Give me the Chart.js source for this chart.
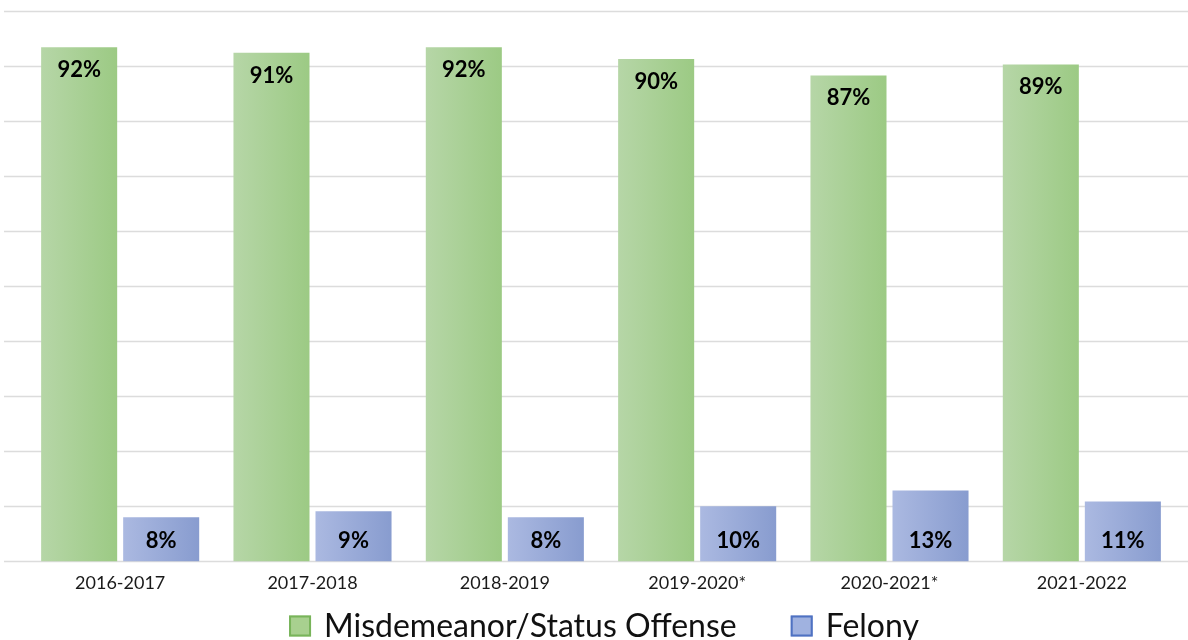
<!DOCTYPE html>
<html>
<head>
<meta charset="utf-8">
<script src="https://cdn.jsdelivr.net/npm/chart.js@4.4.1/dist/chart.umd.min.js"></script>
<style>
    html, body { margin: 0; padding: 0; background: #ffffff; overflow: hidden; }
    #wrap { width: 1188px; height: 640px; position: relative; }
</style>
</head>
<body>
<div id="wrap"><canvas id="offenseChart"></canvas></div>
<script>
// School years
const years = ['2016-2017', '2017-2018', '2018-2019', '2019-2020*', '2020-2021*', '2021-2022'];

// Bar heights as drawn (percent of referrals)
const misdemeanorValues = [93.4, 92.4, 93.4, 91.3, 88.3, 90.3];
const felonyValues = [8, 9.1, 8, 10, 12.9, 10.9];

// Printed labels on the bars
const misdemeanorLabels = ['92%', '91%', '92%', '90%', '87%', '89%'];
const felonyLabels = ['8%', '9%', '8%', '10%', '13%', '11%'];

// Gridline values on the hidden y axis
const gridValues = [0, 10, 20, 30, 40, 50, 60, 70, 80, 90, 100];

const seriesNames = ['Misdemeanor/Status Offense', 'Felony'];

const greenStops = ['#b6d6a7', '#9cca84'];
const blueStops = ['#abb9e1', '#889ccf'];
const legendFills = ['#a8d08f', '#a0b2e0'];
const legendStrokes = ['#78b45a', '#4f72c2'];

// horizontal gridlines running across the full width
const gridPlugin = {
    id: 'fullGrid',
    beforeDatasetsDraw(chart) {
        const ctx = chart.ctx;
        const y = chart.scales.y;
        ctx.save();
        ctx.strokeStyle = '#dcdcdc';
        ctx.lineWidth = 1.5;
        gridValues.forEach(v => {
            const py = Math.round(y.getPixelForValue(v)) + 0.5;
            ctx.beginPath();
            ctx.moveTo(4, py);
            ctx.lineTo(chart.width, py);
            ctx.stroke();
        });
        ctx.restore();
    }
};

// left-to-right gradient per bar
const gradientPlugin = {
    id: 'barGradient',
    afterDatasetsUpdate(chart) {
        const ctx = chart.ctx;
        chart.data.datasets.forEach((ds, di) => {
            const stops = di === 0 ? greenStops : blueStops;
            chart.getDatasetMeta(di).data.forEach(bar => {
                const left = bar.x - bar.width / 2;
                const g = ctx.createLinearGradient(left, 0, left + bar.width, 0);
                g.addColorStop(0, stops[0]);
                g.addColorStop(1, stops[1]);
                bar.options = Object.assign({}, bar.options, { backgroundColor: g });
            });
        });
    }
};

const labelPlugin = {
    id: 'barLabels',
    afterDatasetsDraw(chart) {
        const ctx = chart.ctx;
        ctx.save();
        ctx.font = 'bold 22px Lato';
        ctx.fillStyle = '#000000';
        ctx.textAlign = 'center';
        ctx.textBaseline = 'middle';
        chart.getDatasetMeta(0).data.forEach((bar, i) => {
            ctx.fillText(misdemeanorLabels[i], bar.x, bar.y + 23);
        });
        chart.getDatasetMeta(1).data.forEach((bar, i) => {
            ctx.fillText(felonyLabels[i], bar.x, bar.base - 20);
        });
        ctx.restore();
    }
};

// legend row under the axis labels (wider item gap than the built-in one allows)
const legendPlugin = {
    id: 'bottomLegend',
    afterDraw(chart) {
        const ctx = chart.ctx;
        const box = 22, boxGap = 13, itemGap = 54;
        const cy = 626;
        ctx.save();
        ctx.font = '32px Lato';
        ctx.textBaseline = 'middle';
        const widths = seriesNames.map(n => ctx.measureText(n).width);
        let total = itemGap * (seriesNames.length - 1);
        widths.forEach(w => { total += box + boxGap + w; });
        let x = 604 - total / 2;
        seriesNames.forEach((name, i) => {
            ctx.fillStyle = legendFills[i];
            ctx.fillRect(x, cy - 10.5, box, 21);
            ctx.strokeStyle = legendStrokes[i];
            ctx.lineWidth = 2;
            ctx.strokeRect(x + 1, cy - 9.5, box - 2, 19);
            ctx.fillStyle = '#111111';
            ctx.fillText(name, x + box + boxGap, cy + 1);
            x += box + boxGap + widths[i] + itemGap;
        });
        ctx.restore();
    }
};

new Chart(document.getElementById('offenseChart'), {
    type: 'bar',
    data: {
        labels: years,
        datasets: [
            {
                label: seriesNames[0],
                data: misdemeanorValues,
                backgroundColor: greenStops[1],
                categoryPercentage: 0.853,
                barPercentage: 0.927
            },
            {
                label: seriesNames[1],
                data: felonyValues,
                backgroundColor: blueStops[1],
                categoryPercentage: 0.853,
                barPercentage: 0.927
            }
        ]
    },
    options: {
        responsive: true,
        maintainAspectRatio: false,
        animation: false,
        layout: {
            padding: { top: 11, left: 24, right: 10, bottom: 35 }
        },
        scales: {
            y: {
                display: false,
                min: 0,
                max: 100
            },
            x: {
                grid: { display: false, drawTicks: false },
                border: { display: false },
                ticks: {
                    color: '#1a1a1a',
                    padding: 11,
                    font: { family: 'Lato', size: 18 }
                }
            }
        },
        plugins: {
            tooltip: { enabled: false },
            legend: { display: false }
        }
    },
    plugins: [gridPlugin, gradientPlugin, labelPlugin, legendPlugin]
});
</script>
</body>
</html>
